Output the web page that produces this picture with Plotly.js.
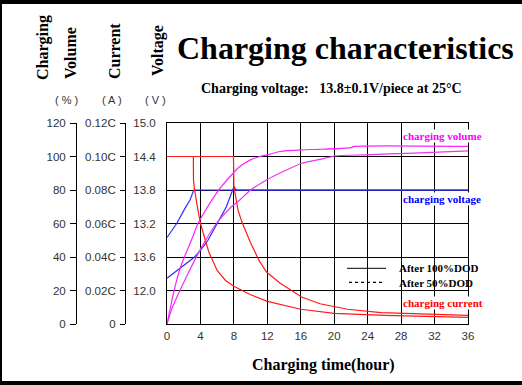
<!DOCTYPE html>
<html>
<head>
<meta charset="utf-8">
<script src="https://cdn.plot.ly/plotly-3.0.1.min.js"></script>
<style>html,body{margin:0;padding:0;background:#fff;}#chart{width:522px;height:385px;}</style>
</head>
<body>
<div id="chart"></div>
<script>
// ---- data ----
const hourTicks = [0, 4, 8, 12, 16, 20, 24, 28, 32, 36];

const volumeTicks = [0, 20, 40, 60, 80, 100, 120];
const volumeTickText = ["0", "20", "40", "60", "80", "100", "120"];
const currentTicks = [0, 0.02, 0.04, 0.06, 0.08, 0.10, 0.12];
const currentTickText = ["0", "0.02C", "0.04C", "0.06C", "0.08C", "0.10C", "0.12C"];
const voltageTicks = [12.0, 12.6, 13.2, 13.8, 14.4, 15.0];
const voltageTickText = ["12.0", "13.6", "13.2", "13.8", "14.4", "15.0"];

// charging volume (%)
const vol50Hours = [0, 0.5, 1, 1.55, 2, 3, 3.7, 4.5, 5.5, 6.5, 7.9, 8.7, 10, 11.1, 12, 13.5, 16, 18.3, 22, 22.4, 36];
const vol50 = [0, 12, 23, 33, 39, 51, 60, 67, 75, 82, 90, 94, 98, 100, 101, 103, 104, 104.3, 105.3, 106, 106];
const vol100Hours = [0, 0.5, 1, 1.55, 2.5, 3.3, 4.5, 5.9, 7.7, 8.7, 10, 11.9, 13.9, 16.1, 18.3, 20.1, 23.6, 29.6, 36];
const vol100 = [0, 8, 14, 20, 30, 38, 49, 60, 70, 74, 80, 86, 91, 96, 98.3, 100.3, 101, 102, 103.3];

// charging current (C)
const cur50Hours = [0, 3.15, 3.17, 3.3, 3.6, 4, 5, 6, 7, 8, 9, 10, 12, 14, 16, 20, 26, 36];
const cur50 = [0.10, 0.10, 0.086, 0.080, 0.071, 0.060, 0.043, 0.032, 0.026, 0.0225, 0.020, 0.0175, 0.0135, 0.011, 0.0088, 0.0064, 0.0052, 0.0040];
const cur100Hours = [0, 7.95, 8.0, 8.5, 8.95, 9.95, 11, 11.9, 13.5, 16.1, 18.3, 21.6, 25.6, 30, 36];
const cur100 = [0.10, 0.10, 0.082, 0.068, 0.061, 0.049, 0.038, 0.031, 0.0245, 0.0161, 0.0121, 0.0088, 0.0068, 0.0060, 0.0052];

// charging voltage (V)
const volt50Hours = [0, 1.16, 2.15, 2.75, 3.2, 36];
const volt50 = [12.95, 13.2, 13.47, 13.62, 13.8, 13.8];
const volt100Hours = [0, 1, 2, 3.3, 4, 4.9, 6, 7.1, 8, 8.3, 36];
const volt100 = [12.22, 12.33, 12.45, 12.6, 12.72, 12.9, 13.2, 13.5, 13.86, 13.8, 13.8];

// ---- layout helpers (pixel -> paper) ----
const W = 522, H = 385;
const px = v => v / W;
const py = v => 1 - v / H;

const serif = "Liberation Serif, Times New Roman, serif";
const sans = "Liberation Sans, Arial, sans-serif";
const tickFont = {family: sans, size: 11.5, color: "#333"};
const unitFont = {family: sans, size: 11, color: "#333"};

const traces = [
  {x: vol100Hours, y: vol100, yaxis: "y3", mode: "lines", line: {color: "#ee33ee", width: 1.2, shape: "spline", smoothing: 0.6}, hoverinfo: "skip"},
  {x: vol50Hours, y: vol50, yaxis: "y3", mode: "lines", line: {color: "#ff22ff", width: 1.2, shape: "spline", smoothing: 0.6}, hoverinfo: "skip"},
  {x: volt100Hours, y: volt100, yaxis: "y", mode: "lines", line: {color: "#2a2aff", width: 1.2}, hoverinfo: "skip"},
  {x: volt50Hours, y: volt50, yaxis: "y", mode: "lines", line: {color: "#3030ff", width: 1.2}, hoverinfo: "skip"},
  {x: cur100Hours, y: cur100, yaxis: "y2", mode: "lines", line: {color: "#ff1a1a", width: 1.2}, hoverinfo: "skip"},
  {x: cur50Hours, y: cur50, yaxis: "y2", mode: "lines", line: {color: "#ff1a1a", width: 1.2}, hoverinfo: "skip"}
];

const plotDomainX = [px(167), px(468)];
const plotDomainY = [py(324), py(123)];

const layout = {
  width: W, height: H,
  margin: {l: 0, r: 0, t: 0, b: 0},
  paper_bgcolor: "#fff", plot_bgcolor: "#fff",
  showlegend: false,
  xaxis: {
    domain: plotDomainX, range: [0, 36], tickvals: hourTicks, ticktext: hourTicks.map(String),
    showgrid: true, gridcolor: "#000", gridwidth: 1, zeroline: false,
    showline: true, mirror: true, linecolor: "#000", linewidth: 1,
    ticks: "", tickfont: tickFont, ticklabelstandoff: 1, fixedrange: true
  },
  yaxis: {
    domain: plotDomainY, range: [11.4, 15.0], tickvals: voltageTicks, ticktext: voltageTickText,
    showgrid: true, gridcolor: "#000", gridwidth: 1, zeroline: false,
    showline: true, mirror: true, linecolor: "#000", linewidth: 1,
    ticks: "", tickfont: tickFont, ticklabelstandoff: 8, fixedrange: true
  },
  yaxis2: {
    overlaying: "y", anchor: "free", position: px(125), side: "left",
    range: [0, 0.12], tickvals: currentTicks, ticktext: currentTickText,
    showgrid: false, zeroline: false, showline: true, linecolor: "#000", linewidth: 1,
    ticks: "outside", ticklen: 5, tickcolor: "#000", tickfont: tickFont, ticklabelstandoff: 2, fixedrange: true
  },
  yaxis3: {
    overlaying: "y", anchor: "free", position: px(76), side: "left",
    range: [0, 120], tickvals: volumeTicks, ticktext: volumeTickText,
    showgrid: false, zeroline: false, showline: true, linecolor: "#000", linewidth: 1,
    ticks: "outside", ticklen: 6, tickcolor: "#000", tickfont: tickFont, ticklabelstandoff: 2, fixedrange: true
  },
  shapes: [
    // legend white box
    {type: "rect", xref: "paper", yref: "paper", x0: px(340), x1: px(467), y0: py(289), y1: py(258), fillcolor: "#fff", line: {width: 0}, layer: "between"},
    {type: "line", xref: "paper", yref: "paper", x0: px(347), x1: px(386), y0: py(268.3), y1: py(268.3), line: {color: "#000", width: 1}},
    {type: "line", xref: "paper", yref: "paper", x0: px(349), x1: px(382), y0: py(282.3), y1: py(282.3), line: {color: "#000", width: 1.2, dash: "dot"}},
    // frame
    {type: "rect", xref: "paper", yref: "paper", x0: 0, x1: 1, y0: py(4), y1: 1, fillcolor: "#000", line: {width: 0}},
    {type: "rect", xref: "paper", yref: "paper", x0: 0, x1: 1, y0: 0, y1: py(381), fillcolor: "#000", line: {width: 0}},
    {type: "rect", xref: "paper", yref: "paper", x0: 0, x1: px(2), y0: 0, y1: 1, fillcolor: "#000", line: {width: 0}}
  ],
  annotations: [
    {text: "<b>Charging characteristics</b>", xref: "paper", yref: "paper", x: px(345), y: py(48), xanchor: "center", yanchor: "middle", showarrow: false, font: {family: serif, size: 32, color: "#000"}},
    {text: "<b>Charging voltage:   13.8±0.1V/piece at 25°C</b>", xref: "paper", yref: "paper", x: px(199), y: py(89), xanchor: "left", yanchor: "middle", showarrow: false, font: {family: serif, size: 14, color: "#000"}},
    {text: "<b>Charging</b>", xref: "paper", yref: "paper", x: px(43), y: py(48), xanchor: "center", yanchor: "middle", textangle: -90, showarrow: false, font: {family: serif, size: 16, color: "#000"}},
    {text: "<b>Volume</b>", xref: "paper", yref: "paper", x: px(71), y: py(53), xanchor: "center", yanchor: "middle", textangle: -90, showarrow: false, font: {family: serif, size: 16, color: "#000"}},
    {text: "<b>Current</b>", xref: "paper", yref: "paper", x: px(115), y: py(51), xanchor: "center", yanchor: "middle", textangle: -90, showarrow: false, font: {family: serif, size: 16, color: "#000"}},
    {text: "<b>Voltage</b>", xref: "paper", yref: "paper", x: px(158), y: py(51), xanchor: "center", yanchor: "middle", textangle: -90, showarrow: false, font: {family: serif, size: 16, color: "#000"}},
    {text: "( % )", xref: "paper", yref: "paper", x: px(66), y: py(100), xanchor: "center", yanchor: "middle", showarrow: false, font: unitFont},
    {text: "( A )", xref: "paper", yref: "paper", x: px(112), y: py(100), xanchor: "center", yanchor: "middle", showarrow: false, font: unitFont},
    {text: "( V )", xref: "paper", yref: "paper", x: px(155), y: py(100), xanchor: "center", yanchor: "middle", showarrow: false, font: unitFont},
    {text: "<b>charging volume</b>", xref: "paper", yref: "paper", x: px(402), y: py(136), xanchor: "left", yanchor: "middle", showarrow: false, bgcolor: "#fff", borderpad: 0, font: {family: serif, size: 11, color: "#ff00ff"}},
    {text: "<b>charging voltage</b>", xref: "paper", yref: "paper", x: px(402), y: py(199), xanchor: "left", yanchor: "middle", showarrow: false, bgcolor: "#fff", borderpad: 0, font: {family: serif, size: 11, color: "#0000ff"}},
    {text: "<b>charging current</b>", xref: "paper", yref: "paper", x: px(402), y: py(303), xanchor: "left", yanchor: "middle", showarrow: false, bgcolor: "#fff", borderpad: 0, font: {family: serif, size: 11, color: "#ff0000"}},
    {text: "<b>After 100%DOD</b>", xref: "paper", yref: "paper", x: px(397), y: py(268), xanchor: "left", yanchor: "middle", showarrow: false, font: {family: serif, size: 11, color: "#000"}},
    {text: "<b>After 50%DOD</b>", xref: "paper", yref: "paper", x: px(397), y: py(283), xanchor: "left", yanchor: "middle", showarrow: false, font: {family: serif, size: 11, color: "#000"}},
    {text: "<b>Charging time(hour)</b>", xref: "paper", yref: "paper", x: px(323), y: py(365), xanchor: "center", yanchor: "middle", showarrow: false, font: {family: serif, size: 16, color: "#000"}}
  ]
};

Plotly.newPlot("chart", traces, layout, {displayModeBar: false, staticPlot: true});
</script>
</body>
</html>
